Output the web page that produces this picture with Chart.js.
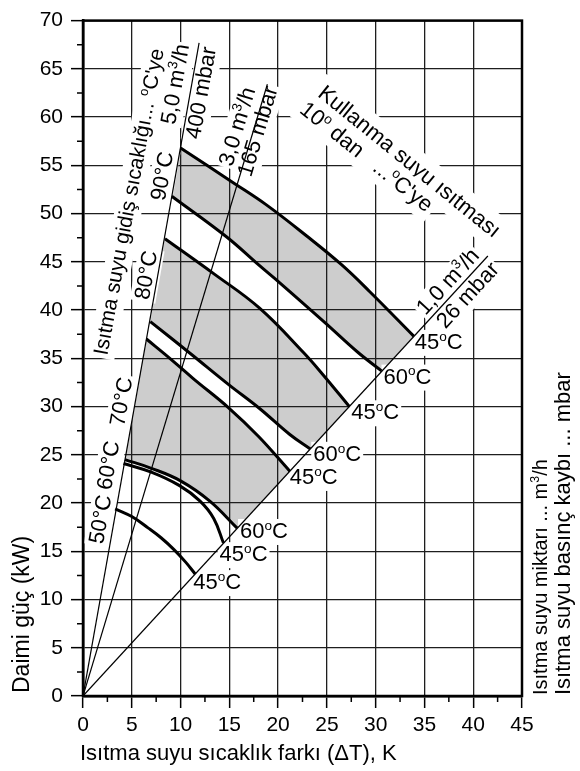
<!DOCTYPE html>
<html>
<head>
<meta charset="utf-8">
<script src="https://cdn.jsdelivr.net/npm/chart.js@4.4.0/dist/chart.umd.min.js"></script>
<style>
  html, body { margin: 0; padding: 0; background: #fff; }
  canvas { display: block; }
</style>
</head>
<body>
<canvas id="powerChart" width="580" height="771"></canvas>
<script>
// flow lines from the origin: end points [dT, kW]
const flow1 = [[0, 0], [41.5, 45.6]];   // 1,0 m3/h / 26 mbar
const flow3 = [[0, 0], [18.9, 63.4]];   // 3,0 m3/h / 165 mbar
const flow5 = [[0, 0], [11.9, 67.7]];   // 5,0 m3/h / 400 mbar

// supply temp -> DHW temp curves [dT, kW]
const t90to45 = [[10.0, 56.8], [15.4, 53.2], [18.8, 50.9], [22.9, 47.7], [26.5, 44.7], [29.4, 41.9], [33.9, 37.3]];
const t90to60 = [[9.1, 51.8], [14.7, 47.6], [18.1, 44.6], [20.2, 42.8], [24.8, 38.7], [28.2, 35.6], [30.6, 33.7]];
const t80to45 = [[8.4, 47.4], [13.5, 43.7], [18.1, 40.2], [22.6, 35.6], [24.6, 33.3], [27.3, 30.0]];
const t80to60 = [[6.9, 38.8], [11.0, 35.5], [14.9, 32.3], [18.1, 29.8], [21.2, 27.1], [23.3, 25.6]];
const t70to45 = [[6.5, 37.0], [8.9, 35.0], [11.3, 32.9], [14.9, 29.9], [18.0, 26.9], [21.2, 23.3]];
const t70to60 = [[4.3, 24.5], [7.0, 23.6], [10.0, 22.3], [13.0, 20.2], [15.8, 17.4]];
const t60to45 = [[4.15, 24.1], [7.0, 23.2], [9.9, 21.8], [12.0, 20.2], [13.4, 18.4], [14.4, 15.85]];
const t50to45 = [[3.3, 19.4], [5.0, 18.6], [6.7, 17.4], [8.0, 16.4], [9.3, 15.2], [10.5, 13.9], [11.5, 12.65]];

const FONT = '"Liberation Sans", Arial, Helvetica, sans-serif';

function pts(arr) {
  return arr.map(([x, y]) => ({ x, y }));
}

// "^x" -> x drawn as superscript
function splitSup(str) {
  const parts = [];
  let i = 0;
  while (i < str.length) {
    if (str[i] === '^') {
      parts.push({ t: str[i + 1], sup: true });
      i += 2;
    } else {
      let j = i;
      while (j < str.length && str[j] !== '^') j++;
      parts.push({ t: str.slice(i, j), sup: false });
      i = j;
    }
  }
  return parts;
}

function drawRich(ctx, text, x, y, angle, align, size, pad) {
  const parts = splitSup(text);
  ctx.save();
  ctx.translate(x, y);
  ctx.rotate(angle);
  let w = 0;
  parts.forEach(p => {
    ctx.font = (p.sup ? size * 0.62 : size) + 'px ' + FONT;
    p.w = ctx.measureText(p.t).width;
    w += p.w;
  });
  let x0 = align === 'left' ? 0 : -w / 2;
  if (pad >= 0) {
    ctx.fillStyle = '#fff';
    ctx.fillRect(x0 - pad, -size * 0.5 - pad, w + 2 * pad, size + 2 * pad);
  }
  ctx.fillStyle = '#000';
  ctx.textAlign = 'left';
  ctx.textBaseline = 'middle';
  parts.forEach(p => {
    ctx.font = (p.sup ? size * 0.62 : size) + 'px ' + FONT;
    ctx.fillText(p.t, x0, p.sup ? -size * 0.27 : 0);
    x0 += p.w;
  });
  ctx.restore();
}

const labelPlugin = {
  id: 'labels',
  beforeDatasetsDraw(chart) {
    const { ctx, scales: { x, y } } = chart;
    const px = v => x.getPixelForValue(v);
    const py = v => y.getPixelForValue(v);
    const angleOf = line => Math.atan2(py(line[1][1]) - py(line[0][1]), px(line[1][0]) - px(line[0][0]));

    drawRich(ctx, 'Isıtma suyu gidiş sıcaklığı... ^oC\'ye', px(4.8), py(51.2), -79.5 * Math.PI / 180, 'center', 21, 3);
    drawRich(ctx, 'Kullanma suyu ısıtması', px(33.4), py(55.3), 39 * Math.PI / 180, 'center', 22, 6);
    drawRich(ctx, '10^o dan   ...^oC\'ye', px(29.0), py(55.8), 38.5 * Math.PI / 180, 'center', 22, 4);

    // labels along the flow lines
    [
      ['5,0 m^3/h', 9.54, 63.4, flow5],
      ['400 mbar', 12.2, 62.5, flow5],
      ['3,0 m^3/h', 15.9, 59.0, flow3],
      ['165 mbar', 18.0, 58.5, flow3],
      ['1,0 m^3/h', 37.46, 42.9, flow1],
      ['26 mbar', 39.5, 41.5, flow1],
      ['90°C', 8.21, 53.86, flow5],
      ['80°C', 6.57, 43.6, flow5],
      ['70°C', 4.02, 30.5, flow5],
      ['60°C', 2.69, 23.9, flow5],
      ['50°C', 1.87, 18.3, flow5]
    ].forEach(([t, vx, vy, line]) => drawRich(ctx, t, px(vx), py(vy), angleOf(line), 'center', 22, 2));

    // DHW temperature at the curve ends
    [
      ['45^oC', 34.0, 36.6], ['60^oC', 30.8, 33.0], ['45^oC', 27.5, 29.3], ['60^oC', 23.6, 25.0],
      ['45^oC', 21.2, 22.6], ['60^oC', 16.1, 17.0], ['45^oC', 14.0, 14.6], ['45^oC', 11.3, 11.7]
    ].forEach(([t, vx, vy]) => drawRich(ctx, t, px(vx), py(vy), 0, 'left', 22, 2));
  },
  afterDraw(chart) {
    const { ctx, chartArea: a, scales: { x, y } } = chart;
    ctx.save();
    ctx.strokeStyle = '#000';
    ctx.lineWidth = 1.5;
    ctx.beginPath();
    for (let v = 2.5; v < 45; v += 5) {
      const p = x.getPixelForValue(v);
      ctx.moveTo(p, a.bottom);
      ctx.lineTo(p, a.bottom + 6);
    }
    for (let v = 2.5; v < 70; v += 5) {
      const p = y.getPixelForValue(v);
      ctx.moveTo(a.left - 6, p);
      ctx.lineTo(a.left, p);
    }
    ctx.stroke();
    ctx.lineWidth = 2.5;
    ctx.strokeRect(a.left, a.top, a.right - a.left, a.bottom - a.top);
    ctx.restore();

    drawRich(ctx, 'Daimi güç (kW)', 22.5, 693, -Math.PI / 2, 'left', 23, -1);
    drawRich(ctx, 'Isıtma suyu sıcaklık farkı (ΔT), K', 80, 754, 0, 'left', 22, -1);
    drawRich(ctx, 'Isıtma suyu miktarı ... m^3/h', 541, 695, -Math.PI / 2, 'left', 20, -1);
    drawRich(ctx, 'Isıtma suyu basınç kaybı ... mbar', 564, 695, -Math.PI / 2, 'left', 22, -1);
  }
};

// closed band outline: upper curve, then lower curve back; the corner on the
// 1,0 m3/h line is doubled so the spline keeps a straight edge there
function band(upper, lower) {
  const back = lower.slice().reverse();
  return pts([...upper, upper[upper.length - 1], back[0], ...back]);
}

const bands = [[t90to45, t90to60], [t80to45, t80to60], [t70to45, t70to60]];
const flows = [flow1, flow3, flow5];
const curves = [t90to45, t90to60, t80to45, t80to60, t70to45, t70to60, t60to45, t50to45];
const TENSION = 0.4;

const datasets = [
  ...bands.map(([upper, lower]) => ({
    data: band(upper, lower),
    showLine: true,
    fill: 'shape',
    backgroundColor: '#cdcdcd',
    borderColor: 'rgba(0,0,0,0)',
    borderWidth: 1,
    pointRadius: 0,
    tension: TENSION
  })),
  ...flows.map(l => ({
    data: pts(l),
    showLine: true,
    fill: false,
    borderColor: '#000',
    borderWidth: 1.2,
    pointRadius: 0
  })),
  ...curves.map(c => ({
    data: pts(c),
    showLine: true,
    fill: false,
    borderColor: '#000',
    borderWidth: 3,
    pointRadius: 0,
    tension: TENSION
  }))
];

new Chart(document.getElementById('powerChart'), {
  type: 'scatter',
  data: { datasets },
  options: {
    responsive: false,
    animation: false,
    devicePixelRatio: 1,
    layout: { padding: { left: 0, right: 58, top: 13, bottom: 0 } },
    plugins: {
      legend: { display: false },
      tooltip: { enabled: false },
      filler: { drawTime: 'beforeDraw' }
    },
    scales: {
      x: {
        type: 'linear', min: 0, max: 45,
        ticks: { stepSize: 5, color: '#000', font: { family: FONT, size: 21 }, padding: 5, maxRotation: 0, autoSkip: false },
        grid: { color: '#1e1e1e', lineWidth: 1.3, tickLength: 12, tickColor: '#000', tickWidth: 1.5 },
        border: { color: '#000', width: 2.5 },
        afterFit(s) { s.height = 75; }
      },
      y: {
        type: 'linear', min: 0, max: 70,
        ticks: { stepSize: 5, color: '#000', font: { family: FONT, size: 21 }, padding: 8, autoSkip: false },
        grid: { color: '#1e1e1e', lineWidth: 1.3, tickLength: 12, tickColor: '#000', tickWidth: 1.5 },
        border: { color: '#000', width: 2.5 },
        afterFit(s) { s.width = 83; }
      }
    }
  },
  plugins: [labelPlugin]
});
</script>
</body>
</html>
